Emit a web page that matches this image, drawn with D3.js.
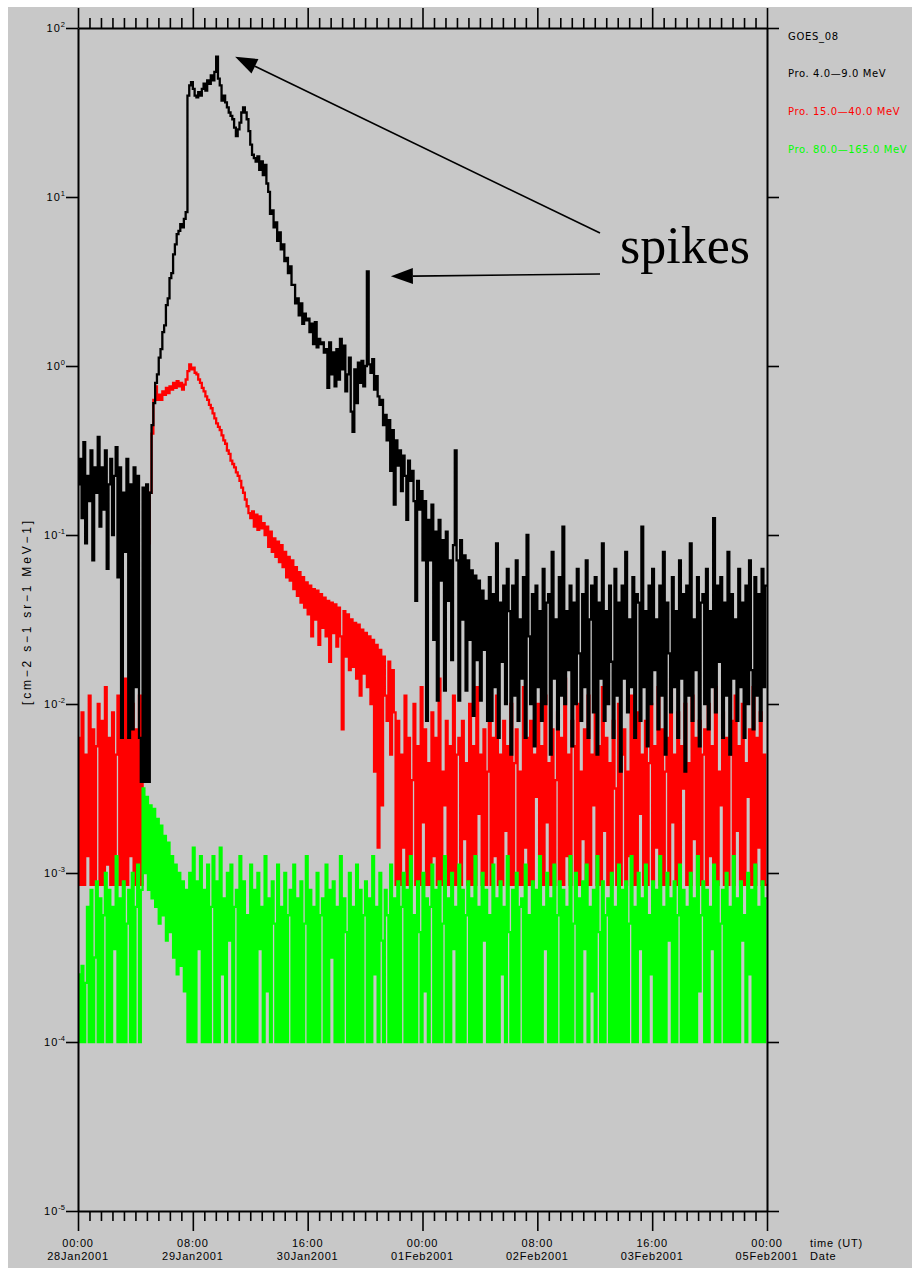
<!DOCTYPE html>
<html>
<head>
<meta charset="utf-8">
<script src="https://cdn.jsdelivr.net/npm/d3@7"></script>
<style>
  html, body { margin: 0; padding: 0; background: #ffffff; }
  svg { display: block; }
</style>
</head>
<body>
<svg id="chart" width="912" height="1268"></svg>
<script>
// GOES-08 proton differential flux, 28 Jan - 5 Feb 2001.
// Samples every 30 minutes, stored as log10 of the flux [cm-2 s-1 sr-1 MeV-1].
const startTime = "2001-01-28T00:00:00Z";
const endTime = "2001-02-05T00:00:00Z";
const sampleMinutes = 30;

// Pro. 4.0-9.0 MeV
const logFluxP4to9 = [
-0.7,-0.55,-0.9,-0.45,-1.05,-0.65,-0.8,-0.5,-1.15,-0.6,
-0.75,-0.42,-0.95,-0.6,-0.85,-0.5,-1.2,-0.7,-0.55,-1.0,
-0.65,-0.48,-1.25,-0.6,-2.2,-0.75,-1.1,-0.55,-2.2,-0.7,
-2.15,-0.6,-1.9,-0.65,-2.2,-2.46,-0.72,-2.46,-0.7,-2.46,
-0.75,-0.35,-0.22,-0.1,-0.05,0.05,0.1,0.2,0.24,0.36,
0.4,0.52,0.55,0.66,0.72,0.78,0.8,0.84,0.82,0.87,
0.91,1.6,1.66,1.68,1.64,1.6,1.59,1.62,1.6,1.64,
1.67,1.63,1.69,1.67,1.72,1.69,1.74,1.83,1.7,1.66,
1.57,1.6,1.56,1.53,1.5,1.48,1.46,1.41,1.36,1.4,
1.44,1.5,1.53,1.5,1.46,1.39,1.31,1.25,1.23,1.21,
1.24,1.16,1.21,1.13,1.19,1.08,1.03,0.9,0.92,0.82,
0.85,0.74,0.79,0.69,0.72,0.62,0.64,0.55,0.59,0.48,
0.48,0.37,0.4,0.3,0.37,0.25,0.31,0.27,0.28,0.2,
0.25,0.13,0.26,0.11,0.16,0.13,0.14,0.08,0.1,-0.13,
0.14,-0.05,0.08,-0.12,0.1,-0.08,0.16,-0.02,0.12,-0.15,
-0.05,0.05,-0.27,-0.39,-0.02,-0.22,0.02,-0.1,0.03,-0.12,
0.0,0.56,0.01,-0.04,0.04,-0.14,-0.06,-0.18,-0.23,-0.2,
-0.35,-0.29,-0.44,-0.32,-0.62,-0.38,-0.82,-0.44,-0.59,-0.5,
-0.74,-0.53,-0.65,-0.91,-0.56,-0.68,-0.62,-0.8,-1.39,-0.68,
-0.85,-0.74,-1.15,-0.8,-2.1,-0.91,-1.15,-0.82,-1.62,-0.98,
-1.98,-0.91,-1.27,-1.03,-1.92,-0.98,-1.39,-1.15,-1.74,-1.06,
-0.5,-1.15,-1.98,-1.03,-1.5,-1.12,-1.92,-1.15,-1.62,-1.21,
-2.07,-1.24,-1.74,-1.27,-1.98,-1.33,-1.68,-1.39,-2.1,
-1.25,-2.1,-1.35,-1.9,-1.05,-2.2,-1.4,-1.75,-1.3,-2.0,
-1.2,-1.45,-2.3,-1.3,-1.95,-1.15,-2.1,-1.5,-1.85,-1.25,
-2.2,-1.0,-1.6,-2.0,-1.35,-2.25,-1.3,-1.9,-1.45,-2.1,
-1.2,-2.0,-1.4,-1.35,-2.3,-1.1,-1.85,-1.5,-2.15,-1.25,
-1.95,-0.95,-2.0,-1.45,-1.8,-1.3,-2.25,-1.4,-2.0,-1.2,
-1.7,-2.1,-1.35,-1.9,-1.15,-2.2,-1.5,-1.3,-2.05,-1.25,
-2.3,-1.4,-1.85,-1.05,-2.1,-1.45,-2.0,-1.3,-1.75,-2.2,
-1.2,-1.95,-1.4,-2.4,-1.3,-1.85,-1.1,-2.05,-1.5,-1.9,
-1.25,-2.2,-1.35,-1.4,-2.1,-0.95,-1.9,-1.45,-2.25,-1.3,
-2.0,-1.2,-1.8,-1.5,-2.15,-1.3,-1.95,-1.1,-2.3,-1.4,
-1.7,-2.05,-1.25,-1.9,-1.45,-2.2,-1.15,-1.85,-1.35,-2.4,
-1.3,-1.95,-1.05,-2.1,-1.5,-1.8,-1.25,-2.25,-1.4,-1.35,
-2.0,-1.2,-2.15,-1.45,-1.9,-0.9,-2.05,-1.3,-1.75,-1.25,
-2.2,-1.4,-1.95,-1.1,-2.3,-1.35,-1.85,-1.5,-2.1,-1.2,
-1.9,-1.4,-2.2,-1.3,-2.0,-1.15,-1.8,-2.15,-1.25,-1.95,
-1.35,-2.1,-1.2,-1.9,-1.3
];

// Pro. 15.0-40.0 MeV
const logFluxP15to40 = [
-2.2,-3.07,-2.05,-3.07,-2.3,-2.9,-1.95,-3.07,-2.15,-3.07,
-2.25,-2.0,-3.07,-2.1,-3.07,-1.9,-2.95,-2.2,-3.07,-2.05,
-3.07,-2.3,-1.95,-3.07,-2.1,-3.07,-1.85,-3.07,-2.2,-2.9,
-2.0,-3.07,-2.15,-3.07,-1.95,-3.07,
-2.0,-1.65,-1.35,-1.05,-0.75,-0.4,-0.2,-0.12,
-0.2,-0.17,-0.2,-0.15,-0.17,-0.13,-0.16,-0.12,-0.14,-0.1,
-0.13,-0.09,-0.12,-0.1,-0.14,-0.11,-0.08,-0.03,
0.01,-0.02,-0.01,-0.04,-0.05,-0.08,-0.1,-0.13,-0.15,-0.18,
-0.2,-0.23,-0.25,-0.28,-0.31,-0.34,-0.36,-0.38,-0.41,-0.44,
-0.46,-0.5,-0.52,-0.56,-0.58,-0.6,-0.63,-0.65,-0.68,-0.72,
-0.75,-0.79,-0.83,-0.87,-0.9,
-0.86,-0.95,-0.88,-0.97,-0.89,-0.96,-0.93,-1.0,-0.95,-1.07,
-0.98,-1.1,-1.02,-1.13,-1.04,-1.16,-1.06,-1.19,-1.1,-1.25,
-1.13,-1.27,-1.15,-1.32,-1.19,-1.36,-1.22,-1.4,-1.25,-1.43,
-1.28,-1.47,-1.3,-1.6,-1.32,-1.5,-1.33,-1.65,-1.35,-1.55,
-1.37,-1.6,-1.39,-1.75,-1.4,-1.58,-1.41,-1.66,-1.43,-1.6,
-2.15,-1.45,-1.72,-1.47,-1.8,-1.5,-1.78,-1.52,-1.85,-1.53,
-1.95,-1.56,-1.82,-1.58,-1.9,-1.6,-2.0,-1.62,-2.4,-1.65,
-2.85,-1.68,-2.6,-1.72,-1.95,-2.1,-1.75,-2.3,-1.8,-2.05,
-3.07,
-2.1,-3.07,-2.3,-2.85,-1.95,-3.07,-2.2,-3.07,-2.45,-2.0,
-3.07,-2.25,-3.07,-1.9,-2.7,-2.15,-3.07,-2.35,-3.07,-2.05,
-2.9,-2.2,-3.07,-1.85,-3.07,-2.4,-2.6,-2.1,-3.07,-2.25,
-3.07,-1.95,-3.07,-2.3,-2.2,-3.07,-2.1,-2.8,-2.35,-3.07,
-2.0,-3.07,-2.25,-3.07,-1.9,-2.65,-2.3,-3.07,-2.15,-3.07,
-2.4,-2.05,-3.07,-2.2,-2.9,-1.95,-3.07,-2.3,-3.07,-2.1,
-2.75,-2.25,-3.07,-2.0,-3.07,-2.35,-2.15,-3.07,-2.4,-3.07,
-1.9,-2.85,-2.2,-3.07,-2.1,-3.07,-2.3,-2.55,-2.0,-3.07,
-2.25,-3.07,-1.95,-2.7,-2.35,-3.07,-2.15,-3.07,-2.45,-2.05,
-3.07,-2.2,-3.07,-1.85,-2.9,-2.3,-3.07,-2.1,-2.25,-3.07,
-2.0,-3.07,-2.4,-2.8,-2.15,-3.07,-1.95,-3.07,-2.3,-2.6,
-2.05,-3.07,-2.25,-3.07,-1.9,-2.75,-2.2,-3.07,-2.35,-3.07,
-2.1,-2.5,-3.07,-2.0,-3.07,-2.3,-2.15,-3.07,-2.4,-2.9,
-1.95,-3.07,-2.2,-3.07,-2.05,-2.65,-2.3,-3.07,-2.1,-3.07,
-2.35,-2.0,-3.07,-2.25,-2.85,-1.9,-3.07,-2.15,-3.07,-2.4,
-2.2,-3.07,-1.85,-2.7,-2.3,-3.07,-2.05,-3.07,-2.25,-2.5,
-2.0,-3.07,-2.35,-3.07,-1.95,-2.8,-2.2,-3.07,-2.1,-3.07,
-2.3,-2.15,-3.07,-2.0,-2.9,-2.25,-3.07,-1.9,-3.07,-2.4,
-2.6,-2.05,-3.07,-2.2,-3.07,-2.3,-2.1,-3.07,-1.95,-2.75,
-2.25,-3.07,-2.0,-3.07,-2.35,-2.55,-2.15,-3.07,-1.9,-3.07,
-2.2,-2.85,-2.05,-3.07,-2.3,-3.07
];

// Pro. 80.0-165.0 MeV
const logFluxP80to165 = [
-3.6,-4.0,-3.55,-4.0,-3.65,-3.2,-4.0,-3.1,-4.0,-3.5,
-3.05,-4.0,-3.15,-4.0,-3.25,-3.0,-4.0,-3.1,-4.0,-3.2,
-3.45,-2.9,-4.0,-3.15,-4.0,-3.05,-4.0,-3.3,-3.1,-4.0,
-3.0,-4.0,-3.2,-2.95,-4.0,-3.1,
-2.5,-3.0,-2.55,-3.1,-2.6,-3.15,-2.62,-3.2,-2.68,-3.3,
-2.72,-3.25,-2.78,-3.4,-2.82,-3.35,-2.9,-3.5,-2.95,-3.6,
-3.0,-3.55,-3.05,-3.7,-3.1,-4.0,
-3.0,-4.0,-2.85,-4.0,-3.05,-3.45,-2.9,-4.0,-3.1,-4.0,
-2.95,-4.0,-3.2,-2.9,-4.0,-3.05,-4.0,-2.85,-3.6,-3.15,
-4.0,-3.0,-3.4,-2.95,-4.0,-3.2,-3.1,-4.0,-2.9,-4.0,
-3.05,-4.0,-3.25,-4.0,-2.95,-4.0,-3.1,-4.0,-3.0,-3.45,
-3.2,-4.0,-2.9,-3.7,-3.15,-4.0,-3.05,-3.3,-4.0,-2.95,
-4.0,-3.2,-4.0,-3.0,-4.0,-3.25,-3.1,-4.0,-2.95,-4.0,
-3.15,-4.0,-3.05,-4.0,-3.3,-2.9,-4.0,-3.1,-4.0,-3.2,
-4.0,-3.0,-4.0,-3.25,-3.15,-4.0,-2.95,-4.0,-3.1,-3.5,
-3.05,-4.0,-3.2,-4.0,-2.9,-4.0,-3.15,-3.35,-4.0,-3.0,
-4.0,-3.2,-4.0,-2.95,-4.0,-3.1,-4.0,-3.25,-3.05,-4.0,
-3.15,-4.0,-2.9,-3.6,-3.2,-4.0,-3.0,-3.4,-4.0,-3.1,
-3.25,-4.0,-2.95,-4.0,-3.15,-4.0,-3.05,-4.0,-3.2,-3.0,
-4.0,-3.1,-4.0,-2.9,-4.0,-3.25,-4.0,-3.05,-3.35,-4.0,
-3.0,-3.7,-3.15,-4.0,-3.2,-2.95,-4.0,-3.1,-4.0,-3.05,
-4.0,-3.3,-2.9,-4.0,-3.15,-4.0,-3.0,-3.45,-3.2,-4.0,
-2.95,-4.0,-3.1,-4.0,-3.25,-3.05,-4.0,-3.15,-4.0,-2.9,
-4.0,-3.2,-4.0,-3.0,-3.4,-3.1,-4.0,-3.25,-4.0,-2.95,
-4.0,-3.15,-4.0,-3.05,-3.6,-3.2,-4.0,-2.9,-3.35,-4.0,
-3.1,-4.0,-3.0,-4.0,-3.2,-3.15,-4.0,-2.95,-4.0,-3.25,
-4.0,-3.05,-4.0,-3.1,-4.0,-2.9,-4.0,-3.2,-3.45,-3.0,
-4.0,-3.15,-4.0,-2.95,-4.0,-3.25,-3.05,-4.0,-3.1,-4.0,
-3.2,-4.0,-2.9,-4.0,-3.3,-3.0,-4.0,-3.15,-4.0,-3.05,
-3.45,-2.95,-4.0,-3.2,-3.7,-3.1,-4.0,-2.9,-3.35,-4.0,
-3.05,-4.0,-3.25,-3.15,-4.0,-3.0,-4.0,-3.2,-4.0,-2.95,
-4.0,-3.1,-4.0,-3.05,-4.0,-3.3,-2.9,-4.0,-3.2,-4.0,
-3.0,-3.45,-3.15,-4.0,-2.95,-4.0,-3.25,-3.6,-3.05,-4.0,
-3.1,-4.0,-2.9,-4.0,-3.2,-4.0,-3.0,-3.4,-3.15,-4.0,
-3.05,-4.0,-3.25,-2.95,-4.0,-3.1,-4.0,-3.2,-4.0,-3.0,
-4.0,-3.15,-4.0,-2.9,-3.7,-3.25,-3.05,-4.0,-3.1,-4.0,
-3.2,-3.45,-2.95,-4.0,-3.05,-4.0,-3.3,-3.1,-4.0,-3.0,
-4.0,-3.2,-4.0,-2.9,-4.0,-3.15,-4.0,-3.05,-3.4,-3.25,
-4.0,-3.0,-3.6,-3.1,-4.0,-2.95,-4.0,-3.2,-4.0,-3.05,
-4.0,-3.15
];

const satelliteName = "GOES_08";
const seriesNames = ["Pro. 4.0\u20149.0 MeV", "Pro. 15.0\u201440.0 MeV", "Pro. 80.0\u2014165.0 MeV"];
const seriesColors = ["#000000", "#ff0000", "#00ff00"];
const majorTickTimes = [
  "2001-01-28T00:00:00Z", "2001-01-29T08:00:00Z", "2001-01-30T16:00:00Z",
  "2001-02-01T00:00:00Z", "2001-02-02T08:00:00Z", "2001-02-03T16:00:00Z",
  "2001-02-05T00:00:00Z"
];
const minorTicksPerMajor = 10;
const yTickExponents = [2, 1, 0, -1, -2, -3, -4, -5];
const yAxisTitle = "[cm\u22122 s\u22121 sr\u22121 MeV\u22121]";
const xAxisTitles = ["time (UT)", "Date"];
const annotationText = "spikes";
const spikeSampleIndices = [77, 161];

// ---------------------------------------------------------------
const W = 912, H = 1268;
const plot = { left: 78, right: 767, top: 28, bottom: 1211 };
const labelFont = "'Liberation Sans', Arial, sans-serif";
const legendFont = "'DejaVu Sans', Verdana, sans-serif";

const svg = d3.select("#chart");

// page background
svg.append("rect")
  .attr("x", 8).attr("y", 7)
  .attr("width", W - 8).attr("height", H - 7)
  .attr("fill", "#c8c8c8");

const t0 = new Date(startTime), t1 = new Date(endTime);
const x = d3.scaleUtc().domain([t0, t1]).range([plot.left, plot.right]);
const y = d3.scaleLog().domain([1e-5, 1e2]).range([plot.bottom, plot.top]);

const stepMs = sampleMinutes * 60000;
function toPoints(values) {
  const pts = values.map((v, i) => ({ t: new Date(t0.getTime() + i * stepMs), f: Math.pow(10, v) }));
  // hold the last sample to the end of the interval
  pts.push({ t: t1, f: pts[pts.length - 1].f });
  return pts;
}

const series = [
  { name: seriesNames[0], color: seriesColors[0], points: toPoints(logFluxP4to9) },
  { name: seriesNames[1], color: seriesColors[1], points: toPoints(logFluxP15to40) },
  { name: seriesNames[2], color: seriesColors[2], points: toPoints(logFluxP80to165) }
];

svg.append("defs").append("clipPath").attr("id", "plotClip")
  .append("rect")
  .attr("x", plot.left).attr("y", plot.top)
  .attr("width", plot.right - plot.left).attr("height", plot.bottom - plot.top);

const line = d3.line()
  .x(d => x(d.t))
  .y(d => y(d.f))
  .curve(d3.curveStepAfter);

// red first, then green, black on top
const gLines = svg.append("g").attr("clip-path", "url(#plotClip)");
[series[1], series[2], series[0]].forEach(s => {
  gLines.append("path")
    .datum(s.points)
    .attr("fill", "none")
    .attr("stroke", s.color)
    .attr("stroke-width", 2.3)
    .attr("stroke-linejoin", "miter")
    .attr("d", line);
});

// ---- axes
const majorDates = majorTickTimes.map(s => new Date(s));
const minorDates = [];
for (let k = 0; k < majorDates.length - 1; k++) {
  const a = +majorDates[k], b = +majorDates[k + 1];
  for (let j = 1; j < minorTicksPerMajor; j++) {
    minorDates.push(new Date(a + (b - a) * j / minorTicksPerMajor));
  }
}
const yTicks = yTickExponents.map(e => Math.pow(10, e));

function styleAxis(g, keepDomain) {
  g.selectAll(".tick text").remove();
  g.selectAll(".tick line").attr("stroke", "#000").attr("stroke-width", 1.6);
  if (keepDomain) g.select(".domain").attr("stroke", "#000").attr("stroke-width", 2);
  else g.select(".domain").remove();
}

svg.append("g").attr("transform", `translate(0,${plot.top})`)
  .call(d3.axisTop(x).tickValues(majorDates).tickSize(20).tickSizeOuter(0).tickFormat(""))
  .call(g => styleAxis(g, true));
svg.append("g").attr("transform", `translate(0,${plot.top})`)
  .call(d3.axisTop(x).tickValues(minorDates).tickSize(10).tickSizeOuter(0).tickFormat(""))
  .call(g => styleAxis(g, false));
svg.append("g").attr("transform", `translate(0,${plot.bottom})`)
  .call(d3.axisBottom(x).tickValues(majorDates).tickSize(20).tickSizeOuter(0).tickFormat(""))
  .call(g => styleAxis(g, true));
svg.append("g").attr("transform", `translate(0,${plot.bottom})`)
  .call(d3.axisBottom(x).tickValues(minorDates).tickSize(10).tickSizeOuter(0).tickFormat(""))
  .call(g => styleAxis(g, false));
svg.append("g").attr("transform", `translate(${plot.left},0)`)
  .call(d3.axisLeft(y).tickValues(yTicks).tickSize(12).tickSizeOuter(0).tickFormat(""))
  .call(g => styleAxis(g, true));
svg.append("g").attr("transform", `translate(${plot.right},0)`)
  .call(d3.axisRight(y).tickValues(yTicks).tickSize(12).tickSizeOuter(0).tickFormat(""))
  .call(g => styleAxis(g, true));

// y tick labels: 10 with exponent
yTickExponents.forEach((e, i) => {
  const t = svg.append("text")
    .attr("x", plot.left - 13)
    .attr("y", y(yTicks[i]) + 4)
    .attr("text-anchor", "end")
    .attr("font-family", labelFont)
    .attr("font-size", 11)
    .attr("fill", "#000");
  t.append("tspan").attr("letter-spacing", 1).text("10");
  t.append("tspan").attr("font-size", 7.5).attr("dy", -5).text(e < 0 ? "-" + (-e) : String(e));
});

// x tick labels: time and date
const fmtTime = d3.utcFormat("%H:%M");
const fmtDate = d3.utcFormat("%d%b%Y");
majorDates.forEach(d => {
  const t = svg.append("text")
    .attr("text-anchor", "middle")
    .attr("font-family", labelFont)
    .attr("font-size", 11)
    .attr("letter-spacing", 0.8)
    .attr("fill", "#000");
  t.append("tspan").attr("x", x(d)).attr("y", 1247).text(fmtTime(d));
  t.append("tspan").attr("x", x(d)).attr("y", 1260).text(fmtDate(d));
});

xAxisTitles.forEach((s, i) => {
  svg.append("text")
    .attr("x", 810).attr("y", 1247 + i * 13)
    .attr("font-family", labelFont)
    .attr("font-size", 11)
    .attr("letter-spacing", 0.8)
    .attr("fill", "#000")
    .text(s);
});

// y axis title
svg.append("text")
  .attr("transform", "translate(31,705) rotate(-90)")
  .attr("font-family", labelFont)
  .attr("font-size", 12)
  .attr("letter-spacing", 2.8)
  .attr("fill", "#000")
  .text(yAxisTitle);

// legend
svg.append("text")
  .attr("x", 788).attr("y", 40)
  .attr("font-family", legendFont).attr("font-size", 10).attr("letter-spacing", 0.7)
  .attr("fill", "#000").text(satelliteName);
series.forEach((s, i) => {
  svg.append("text")
    .attr("x", 788).attr("y", 77 + i * 38)
    .attr("font-family", legendFont).attr("font-size", 10).attr("letter-spacing", 0.6)
    .attr("fill", s.color).text(s.name);
});

// annotation: arrows to the spikes
const tips = spikeSampleIndices.map((idx, k) => {
  const p = series[0].points[idx];
  return k === 0 ? [x(p.t) + 19, y(p.f)] : [x(p.t) + 24, y(p.f) + 5];
});
const tails = [[600, 233], [600, 274]];

function drawArrow(tail, tip) {
  const dx = tip[0] - tail[0], dy = tip[1] - tail[1];
  const L = Math.hypot(dx, dy), ux = dx / L, uy = dy / L;
  const headLen = 22, headHalf = 8;
  const bx = tip[0] - ux * headLen, by = tip[1] - uy * headLen;
  svg.append("line")
    .attr("x1", tail[0]).attr("y1", tail[1])
    .attr("x2", bx).attr("y2", by)
    .attr("stroke", "#000").attr("stroke-width", 1.6);
  svg.append("path")
    .attr("d", `M${tip[0]},${tip[1]}L${bx - uy * headHalf},${by + ux * headHalf}L${bx + uy * headHalf},${by - ux * headHalf}Z`)
    .attr("fill", "#000");
}
tips.forEach((tip, k) => drawArrow(tails[k], tip));

svg.append("text")
  .attr("x", 620).attr("y", 263)
  .attr("font-family", "'Liberation Serif', 'Times New Roman', serif")
  .attr("font-size", 52)
  .attr("fill", "#000")
  .text(annotationText);
</script>
</body>
</html>
